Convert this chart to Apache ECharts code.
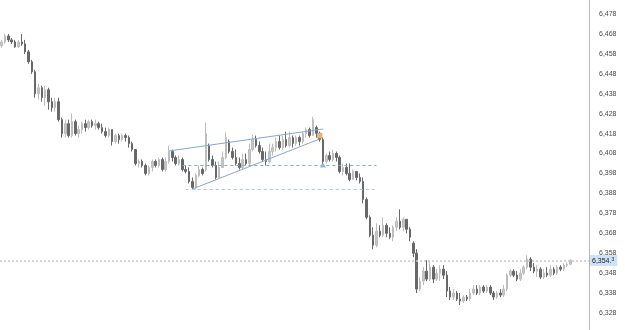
<!DOCTYPE html>
<html>
<head>
<meta charset="utf-8">
<script src="https://cdn.jsdelivr.net/npm/echarts@6/dist/echarts.min.js"></script>
<style>
html,body{margin:0;padding:0;background:#fff;}
#c{width:625px;height:330px;}
</style>
</head>
<body>
<div id="c"></div>
<script>
// ---- data ----
const opens = [
6462,6464,6467,6465,6464,6461.5,6464,6463,6459,6454,
6449,6438,6441,6436,6440,6434,6431,6434,6425,6418,
6423,6417,6424,6418,6420,6423,6421,6424,6422,6423,
6421,6419,6417,6420,6414,6417,6415,6417,6416,6413,
6410,6403,6404,6402,6398,6401,6404,6402,6405,6400,
6404,6409,6406,6403,6405,6400,6399,6394,6391,6397,
6400,6400,6412,6405,6402,6396,6401,6406,6414,6409,
6406,6403,6401,6405,6403,6410,6415,6412,6409,6405,
6404,6409,6411,6414,6411,6415,6412,6416,6413,6416,
6414,6418,6420,6417,6421,6418,6415,6404,6407,6405,
6408,6406,6399,6401,6398,6395,6399,6396,6394,6385,
6376,6367,6362,6369,6367,6372,6368,6366,6371,6374,
6371,6375,6370,6363,6358,6340,6344,6349,6345,6351,
6345,6348,6350,6347,6339,6336,6338,6335,6334,6336,
6335,6338,6340,6338,6341,6339,6341,6338,6336,6338,
6337,6340,6347,6349,6347,6345,6348,6351,6355,6351,
6349,6350,6346,6348,6347,6350,6348,6351,6350,6352,6352.5];
const closes = [
6464,6467,6465,6464,6461.5,6464,6463,6459,6454,6449,
6438,6441,6436,6440,6434,6431,6434,6425,6418,6423,
6417,6424,6418,6420,6423,6421,6424,6422,6423,6421,
6419,6417,6420,6414,6417,6415,6417,6416,6413,6410,
6403,6404,6402,6398,6401,6404,6402,6405,6400,6404,
6409,6406,6403,6405,6400,6399,6394,6391,6397,6400,
6398,6418,6405,6402,6396,6401,6406,6416,6409,6406,
6403,6401,6405,6403,6410,6415,6412,6409,6405,6404,
6409,6411,6414,6411,6415,6412,6416,6413,6416,6414,
6418,6420,6417,6425,6418,6415,6404,6407,6405,6408,
6406,6399,6401,6398,6395,6399,6396,6394,6385,6376,
6367,6362,6369,6367,6372,6368,6366,6371,6374,6371,
6375,6370,6366,6358,6340,6344,6349,6345,6351,6345,
6348,6350,6347,6339,6336,6338,6335,6334,6336,6335,
6338,6340,6338,6341,6339,6341,6338,6336,6338,6337,
6340,6347,6349,6347,6345,6348,6351,6355,6351,6349,
6350,6346,6348,6347,6350,6348,6351,6350,6352,6352.5,6354.3];
const lows = [
6461,6463,6464,6463,6461,6461,6462,6458,6453,6448,
6436,6435,6434,6432,6430,6429,6429,6424,6416,6416,
6416,6416,6417,6416,6418,6419,6420,6421,6420,6420,
6418,6416,6416,6412,6413,6413,6414,6414,6411,6409,
6402,6401,6401,6397,6397,6399,6401,6401,6399,6399,
6403,6404,6402,6402,6399,6398,6393,6390,6390,6396,
6397,6399,6404,6401,6395,6396,6401,6405,6408,6405,
6402,6400,6400,6402,6402,6409,6411,6408,6404,6402,
6403,6407,6409,6410,6410,6411,6411,6411,6412,6412,
6413,6416,6416,6417,6416,6414,6402,6403,6404,6404,
6404,6398,6397,6397,6394,6395,6394.5,6393,6383,6375,
6366,6360,6361,6366,6366,6366,6365,6364,6369,6370,
6369,6368,6364,6356,6338,6339,6342,6344,6344,6343,
6344,6344,6345,6336,6334.5,6334.5,6334,6332,6333,6334,
6334,6337,6337,6337,6338,6338,6337,6334.5,6335,6336,
6336,6339,6346,6346,6344,6344,6347,6350,6349,6348,
6346,6345,6345,6346,6346,6347,6347,6349,6349,6351,6352];
const highs = [
6465,6468,6468,6466,6465,6465,6468,6465,6460,6455,
6450,6443,6442,6442,6441,6436,6436,6436,6426,6425,
6425,6428,6425,6422,6424,6425,6425,6425,6425,6424,
6423,6421,6421,6420,6418,6418,6418,6418,6417,6414,
6410,6405,6405,6403,6402,6405,6405,6406,6406,6406,
6412,6410,6407,6407,6406,6402,6401,6396,6398,6402,
6401,6423.5,6413,6407,6404,6404,6409,6418.5,6415,6411,
6410,6406,6408,6408,6413,6417.5,6417,6414,6411,6409,
6413,6413,6416,6417,6417,6419,6419,6417,6417,6417,
6419,6421,6421,6426.5,6422,6419,6416,6408,6409,6410,
6409,6407,6403,6403,6403,6400,6399,6398,6396,6386,
6377,6371,6373,6372,6376,6373,6371,6372,6376,6380,
6376,6375,6371,6364,6360,6346,6351,6354.5,6354.5,6352,
6350,6352,6352,6349,6341,6340,6339,6338,6337,6337,
6340,6342,6342,6342,6342,6342,6342,6339,6339,6340,
6342,6348,6350,6350,6349,6350,6352,6357,6356,6353,
6352,6351,6350,6351,6352,6351,6352,6352,6353,6353.5,6355];
const emptySlots = 5;                 // blank bars to the right of the last one
const lastPrice = 6354.3;
const yTicksMin = 6328, yTicksMax = 6478, yTickStep = 10;
// wedge annotation: [barIndex, price]
const wedgeUpper = [[50, 6409.3], [96, 6420.3]];
const wedgeLower = [[57, 6390.2], [95, 6415.3]];
const levelA = [[54, 6402.2], [112, 6402.2]];
const levelB = [[55, 6390.2], [112, 6390.2]];
const markerSquare = [95, 6417];
const markerTriangle = [96, 6402.2];

// ---- build ----
const n = closes.length + emptySlots;
const categories = Array.from({length: n}, (_, i) => 'b' + i);
const ohlc = categories.map((_, i) => i < closes.length
  ? [opens[i], closes[i], lows[i], highs[i]] : '-');

function fmt(v) {
  const s = String(Math.round(v));
  return s.slice(0, -3) + ',' + s.slice(-3);
}

const chart = echarts.init(document.getElementById('c'), null, {renderer: 'canvas'});
chart.setOption({
  animation: false,
  backgroundColor: '#ffffff',
  grid: [
    {left: 0, right: 36, top: 14, bottom: 17},
    {left: 0, right: 36, top: 0, bottom: 0}
  ],
  xAxis: [
    {type: 'category', data: categories, gridIndex: 0, boundaryGap: true,
     axisLine: {show: false}, axisTick: {show: false}, axisLabel: {show: false}, splitLine: {show: false}},
    {type: 'category', data: ['a'], gridIndex: 1, show: false}
  ],
  yAxis: [
    {type: 'value', gridIndex: 0, position: 'right', scale: true,
     min: yTicksMin, max: yTicksMax, interval: yTickStep,
     axisLine: {show: false}, axisTick: {show: false}, splitLine: {show: false},
     axisLabel: {show: true, margin: 10, color: '#4a4a4a', fontSize: 7,
       fontFamily: 'Liberation Sans', formatter: fmt}},
    {type: 'value', gridIndex: 1, position: 'right', min: 0, max: 1,
     axisLine: {show: true, lineStyle: {color: '#b8b8b8', width: 1}},
     axisTick: {show: false}, axisLabel: {show: false}, splitLine: {show: false}}
  ],
  series: [{
    type: 'candlestick',
    xAxisIndex: 0, yAxisIndex: 0,
    data: ohlc,
    barWidth: 2,
    itemStyle: {
      color: '#c6c6c6', color0: '#686868',
      borderColor: '#bdbdbd', borderColor0: '#686868', borderWidth: 1
    },
    markLine: {
      symbol: ['none', 'none'],
      silent: true,
      animation: false,
      label: {show: false},
      data: [
        [{coord: wedgeUpper[0]}, {coord: wedgeUpper[1], lineStyle: {color: '#88a6d2', width: 1, type: 'solid'}}],
        [{coord: wedgeLower[0]}, {coord: wedgeLower[1], lineStyle: {color: '#88a6d2', width: 1, type: 'solid'}}],
        [{coord: levelA[0]}, {coord: levelA[1], lineStyle: {color: '#86a9c8', width: 1, type: [3, 3]}}],
        [{coord: levelB[0]}, {coord: levelB[1], lineStyle: {color: '#aecbe0', width: 1, type: [3, 3]}}],
        {yAxis: lastPrice,
         lineStyle: {color: '#c8c8c8', width: 1.5, type: [2, 2]},
         label: {show: true, position: 'end', distance: 1,
           formatter: '{a|' + fmt(Math.floor(lastPrice)) + '.}{b|' + Math.round((lastPrice % 1) * 10) + '}',
           backgroundColor: '#cfe1f7', padding: [2, 3, 1, 2],
           rich: {
             a: {fontSize: 7, fontFamily: 'Liberation Sans', color: '#222'},
             b: {fontSize: 5, fontFamily: 'Liberation Sans', color: '#222', verticalAlign: 'top', padding: [0, 0, 3, 0]}
           }}}
      ]
    },
    markPoint: {
      silent: true,
      animation: false,
      label: {show: false},
      data: [
        {coord: markerSquare, symbol: 'rect', symbolSize: [5, 5], symbolOffset: [0, 0],
         itemStyle: {color: '#e3b979', borderColor: '#c99a55', borderWidth: 0.5}},
        {coord: markerTriangle, symbol: 'triangle', symbolSize: [6, 5],
         itemStyle: {color: '#86b6e6'}}
      ]
    }
  }]
});
</script>
</body>
</html>
